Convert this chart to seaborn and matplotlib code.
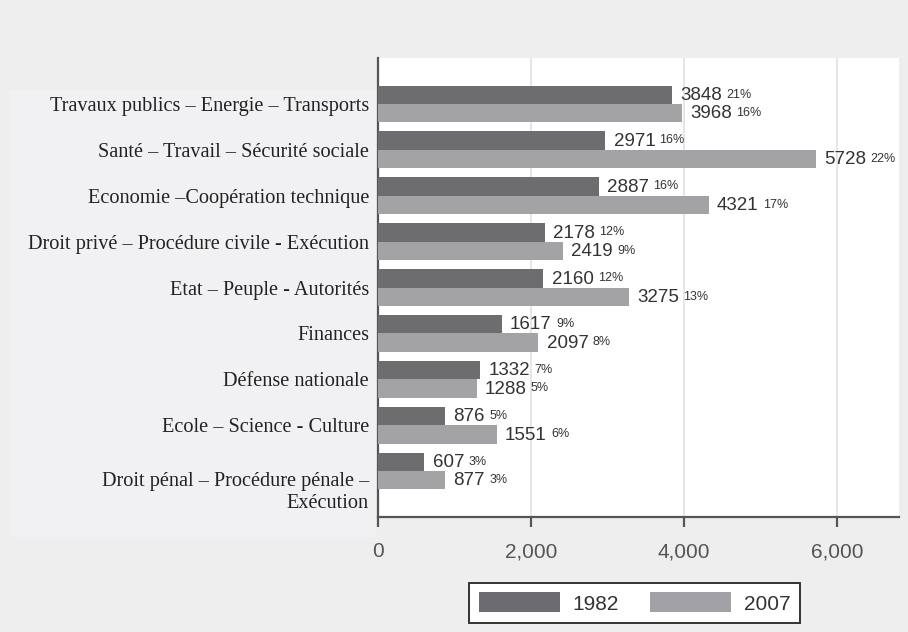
import matplotlib
matplotlib.use("Agg")
import matplotlib.pyplot as plt
import matplotlib.transforms as mtransforms
from matplotlib.patches import Rectangle, Patch
import seaborn as sns
import pandas as pd

categories = [
    "Travaux publics – Energie – Transports",
    "Santé – Travail – Sécurité sociale",
    "Economie –Coopération technique",
    "Droit privé – Procédure civile - Exécution",
    "Etat – Peuple - Autorités",
    "Finances",
    "Défense nationale",
    "Ecole – Science - Culture",
    "Droit pénal – Procédure pénale –\nExécution",
]
years = ["1982", "2007"]
values_1982 = [3848, 2971, 2887, 2178, 2160, 1617, 1332, 876, 607]
values_2007 = [3968, 5728, 4321, 2419, 3275, 2097, 1288, 1551, 877]
pct_1982 = ["21%", "16%", "16%", "12%", "12%", "9%", "7%", "5%", "3%"]
pct_2007 = ["16%", "22%", "17%", "9%", "13%", "8%", "5%", "6%", "3%"]
xticks = [0, 2000, 4000, 6000]
xtick_labels = ["0", "2,000", "4,000", "6,000"]

colors = {"1982": "#6c6c70", "2007": "#a2a2a6"}

df = pd.DataFrame({
    "category": categories * 2,
    "year": [years[0]] * len(categories) + [years[1]] * len(categories),
    "value": values_1982 + values_2007,
})

sns.set_theme(style="white")
plt.rcParams["font.family"] = ["Liberation Sans", "DejaVu Sans"]

fig = plt.figure(figsize=(9.08, 6.32), dpi=100)
fig.patch.set_facecolor("#eeeeee")
# slightly lighter label panel (behind everything)
fig.patches.append(Rectangle((10 / 908, 1 - 537 / 632), 366 / 908, 447 / 632,
                             transform=fig.transFigure, facecolor="#f1f1f3",
                             edgecolor="none", zorder=-5))

ax = fig.add_axes([378 / 908, 1 - 517 / 632, (899 - 378) / 908, (517 - 58) / 632])
ax.set_facecolor("white")

sns.barplot(data=df, y="category", x="value", hue="year", orient="h",
            palette=colors, order=categories, hue_order=years,
            width=0.8, linewidth=0, ax=ax, legend=False, zorder=3)

ax.set_xlim(0, 6810)
ax.set_ylim(9.0, -1.0)
ax.set_xticks(xticks)
ax.set_xticklabels(xtick_labels, fontsize=15, color="#555555")
ax.set_xlabel("")
ax.set_ylabel("")

ax.grid(axis="x", color="#e4e4e4", linewidth=1.3, zorder=0)
ax.grid(axis="y", visible=False)
ax.set_axisbelow(True)

for side in ["top", "right"]:
    ax.spines[side].set_visible(False)
for side in ["left", "bottom"]:
    ax.spines[side].set_color("#555555")
    ax.spines[side].set_linewidth(1.6)

ax.tick_params(axis="x", bottom=True, length=7, width=1.6, color="#555555", pad=11)
ax.tick_params(axis="y", left=False, length=0, pad=6.5)

for lbl in ax.get_yticklabels():
    lbl.set_fontfamily(["Liberation Serif", "DejaVu Serif"])
    lbl.set_fontsize(14.6)
    lbl.set_color("#222222")
    if "\n" in lbl.get_text():
        lbl.set_transform(lbl.get_transform() +
                          mtransforms.ScaledTranslation(0, -12.5 / 72, fig.dpi_scale_trans))

pcts = [pct_1982, pct_2007]
for container, pct_list in zip(ax.containers, pcts):
    for bar, pct in zip(container, pct_list):
        w = bar.get_width()
        yc = bar.get_y() + bar.get_height() / 2
        t = ax.annotate(f"{int(round(w))}", xy=(w, yc), xytext=(6, -0.5),
                        textcoords="offset points", va="center", ha="left",
                        fontsize=13.5, color="#333333")
        ax.annotate(pct, xy=(1, 0.55), xycoords=t, xytext=(3, 0),
                    textcoords="offset points", va="center", ha="left",
                    fontsize=9, color="#333333")

handles = [Patch(facecolor=colors[y], edgecolor="none") for y in years]
leg = fig.legend(handles, years, loc="center", bbox_to_anchor=(634.5 / 908, 1 - 603 / 632),
                 ncol=2, fontsize=15, frameon=True, fancybox=False,
                 handlelength=3.9, handleheight=1.1, handletextpad=0.6,
                 columnspacing=1.5, borderpad=0.45)
for txt in leg.get_texts():
    txt.set_color("#333333")
frame = leg.get_frame()
frame.set_edgecolor("#333333")
frame.set_linewidth(1.4)
frame.set_facecolor("white")
frame.set_alpha(1)

fig.savefig("out.png", dpi=100, facecolor=fig.get_facecolor())
